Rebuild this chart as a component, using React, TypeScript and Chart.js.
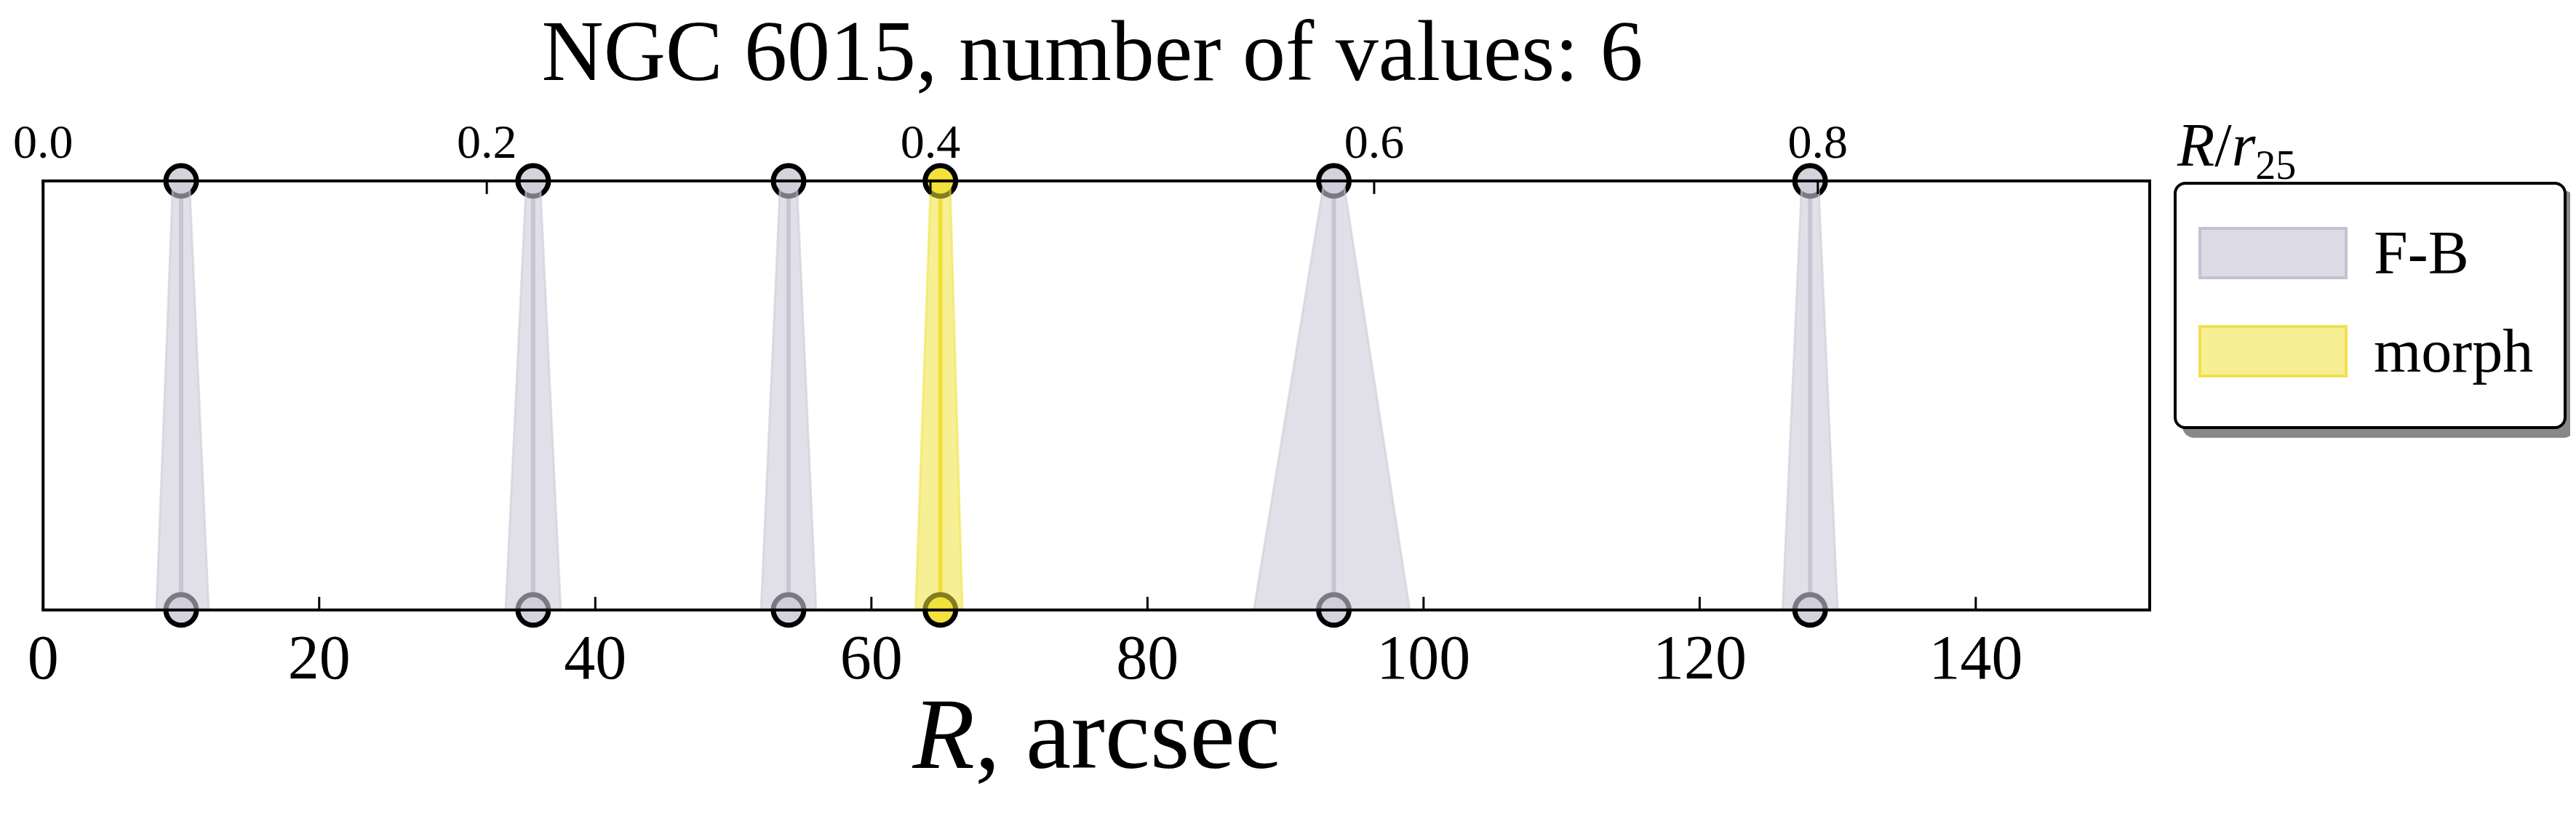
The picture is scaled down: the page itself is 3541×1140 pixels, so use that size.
import React, { useEffect, useRef } from 'react';
import { Chart, registerables } from 'chart.js';

Chart.register(...registerables);

// Data (arcsec)
const methods = ['F-B', 'F-B', 'F-B', 'morph', 'F-B', 'F-B'];
const centers = [10, 35.5, 54, 65, 93.5, 128];
const lowBottom = [8.2, 33.5, 52, 63.2, 87.7, 126];
const highBottom = [12, 37.5, 56, 66.6, 99, 130];
const lowTop = [9.4, 35, 53.4, 64.3, 92.8, 127.4];
const highTop = [10.6, 36, 54.6, 65.7, 94.2, 128.6];
const xMax = 152.6;
const r25 = 160.7;
const bottomTicks = [0, 20, 40, 60, 80, 100, 120, 140];
const topTicks = [0.0, 0.2, 0.4, 0.6, 0.8];

const FONT = "'Liberation Serif', 'DejaVu Serif', serif";

const colors: Record<string, { fill: string; line: string; dot: string }> = {
  'F-B': { fill: 'rgba(205, 203, 216, 0.6)', line: 'rgba(185, 183, 196, 0.9)', dot: '#d4d3dc' },
  morph: { fill: 'rgba(240, 226, 60, 0.55)', line: 'rgba(238, 222, 40, 1)', dot: '#f2e23a' },
};

const framePlugin = {
  id: 'frame',
  afterDraw(chart: Chart) {
    const { ctx, chartArea } = chart;
    const { left, right, top, bottom } = chartArea;
    ctx.save();
    ctx.strokeStyle = '#000';
    ctx.lineWidth = 4;
    ctx.strokeRect(left, top, right - left, bottom - top);
    // inward ticks
    const xs = chart.scales.x;
    ctx.lineWidth = 3;
    bottomTicks.forEach((v) => {
      const px = xs.getPixelForValue(v);
      ctx.beginPath();
      ctx.moveTo(px, bottom);
      ctx.lineTo(px, bottom - 18);
      ctx.stroke();
    });
    const x2 = chart.scales.x2;
    topTicks.forEach((v) => {
      const px = x2.getPixelForValue(v);
      ctx.beginPath();
      ctx.moveTo(px, top);
      ctx.lineTo(px, top + 18);
      ctx.stroke();
    });
    // x axis title with italic R
    ctx.fillStyle = '#000';
    ctx.textBaseline = 'middle';
    const cx = (left + right) / 2;
    const cy = bottom + 180;
    ctx.font = `italic 140px ${FONT}`;
    const rW = ctx.measureText('R').width;
    ctx.font = `140px ${FONT}`;
    const restW = ctx.measureText(', arcsec').width;
    const sx = cx - (rW + restW) / 2;
    ctx.font = `italic 140px ${FONT}`;
    ctx.textAlign = 'left';
    ctx.fillText('R', sx, cy);
    ctx.font = `140px ${FONT}`;
    ctx.fillText(', arcsec', sx + rW, cy);
    ctx.restore();
  },
};

const App: React.FC = () => {
  const chartRef = useRef<HTMLCanvasElement>(null);
  const chartInstance = useRef<Chart | null>(null);

  useEffect(() => {
    if (!chartRef.current) return;
    const ctx = chartRef.current.getContext('2d');
    if (!ctx) return;

    const datasets: any[] = [];
    centers.forEach((c, i) => {
      const col = colors[methods[i]];
      datasets.push({
        data: [
          { x: lowBottom[i], y: 0 },
          { x: lowTop[i], y: 1 },
          { x: highTop[i], y: 1 },
          { x: highBottom[i], y: 0 },
        ],
        borderColor: col.fill,
        backgroundColor: col.fill,
        borderWidth: 3,
        pointRadius: 0,
        fill: 'origin',
        tension: 0,
      });
      datasets.push({
        data: [
          { x: c, y: 0 },
          { x: c, y: 1 },
        ],
        borderColor: col.line,
        borderWidth: 6,
        pointRadius: 21,
        pointBackgroundColor: col.dot,
        pointBorderColor: '#000',
        pointBorderWidth: 7,
        fill: false,
        clip: false,
      });
    });

    chartInstance.current = new Chart(ctx, {
      type: 'line',
      data: { datasets },
      plugins: [framePlugin],
      options: {
        responsive: true,
        maintainAspectRatio: false,
        animation: false,
        layout: { padding: { left: 40, right: 578, bottom: 150, top: 0 } },
        plugins: {
          legend: { display: false },
          tooltip: { enabled: false },
          title: {
            display: true,
            text: 'NGC 6015, number of values: 6',
            color: '#000',
            font: { family: FONT, size: 118, weight: 'normal' },
            padding: { top: 0, bottom: 0 },
          },
        },
        scales: {
          x: {
            type: 'linear',
            position: 'bottom',
            min: 0,
            max: xMax,
            grid: { display: false, drawTicks: false },
            border: { display: false },
            afterBuildTicks: (axis: any) => {
              axis.ticks = bottomTicks.map((v) => ({ value: v }));
            },
            ticks: {
              autoSkip: false,
              color: '#000',
              padding: 20,
              font: { family: FONT, size: 86 },
              callback: (v: any) => String(v),
            },
          },
          x2: {
            type: 'linear',
            position: 'top',
            min: 0,
            max: xMax / r25,
            grid: { display: false, drawTicks: false },
            border: { display: false },
            afterBuildTicks: (axis: any) => {
              axis.ticks = topTicks.map((v) => ({ value: v }));
            },
            ticks: {
              autoSkip: false,
              color: '#000',
              padding: 10,
              font: { family: FONT, size: 66 },
              callback: (v: any) => Number(v).toFixed(1),
            },
          },
          y: {
            type: 'linear',
            min: 0,
            max: 1,
            display: false,
          },
        },
      },
    });

    return () => {
      if (chartInstance.current) {
        chartInstance.current.destroy();
        chartInstance.current = null;
      }
    };
  }, []);

  const swatch = (bg: string, border: string) => (
    <span
      style={{
        display: 'inline-block',
        width: 205,
        height: 72,
        background: bg,
        border: `4px solid ${border}`,
        marginRight: 36,
        boxSizing: 'border-box',
      }}
    />
  );

  return (
    <div style={{ position: 'relative', width: 'calc(100vw - 16px)', height: 1124, fontFamily: FONT }}>
      <canvas ref={chartRef}></canvas>
      <div style={{ position: 'absolute', left: 2985, top: 150, fontSize: 84, lineHeight: 1 }}>
        <i>R</i>/<i>r</i>
        <sub style={{ fontSize: 56 }}>25</sub>
      </div>
      <div
        style={{
          position: 'absolute',
          left: 2980,
          top: 242,
          width: 540,
          height: 340,
          border: '4px solid #000',
          borderRadius: 16,
          background: '#fff',
          boxShadow: '12px 12px 0 #888',
          boxSizing: 'border-box',
          padding: '26px 30px',
          fontSize: 84,
        }}
      >
        <div style={{ display: 'flex', alignItems: 'center', height: 135 }}>
          {swatch('rgba(205, 203, 216, 0.7)', 'rgba(190, 188, 205, 0.8)')}
          <span>F-B</span>
        </div>
        <div style={{ display: 'flex', alignItems: 'center', height: 135 }}>
          {swatch('rgba(240, 226, 60, 0.55)', 'rgba(238, 222, 60, 0.8)')}
          <span>morph</span>
        </div>
      </div>
    </div>
  );
};

export default App;
